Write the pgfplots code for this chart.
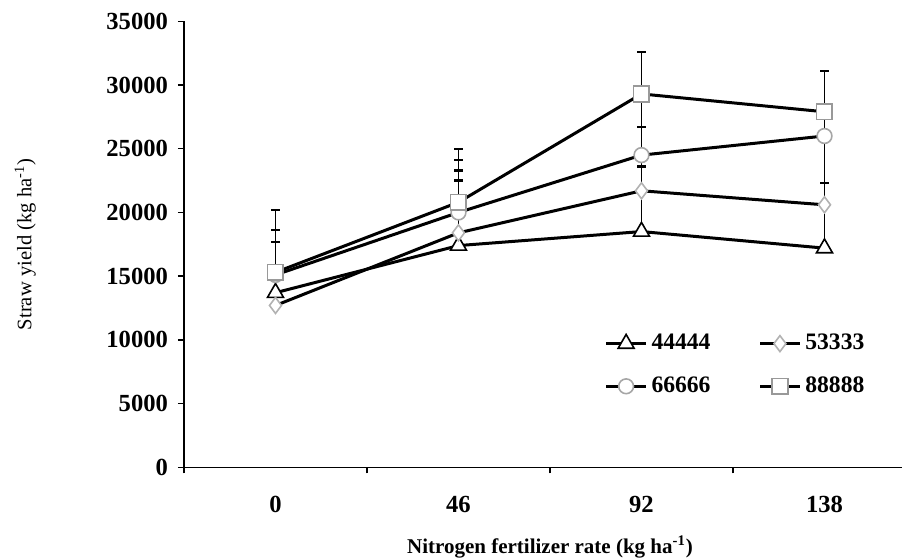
\documentclass[border=0pt]{standalone}
\usepackage{pgfplots}
\pgfplotsset{compat=1.18}
\usepackage{fontspec}
\setmainfont{Liberation Serif}
\usetikzlibrary{calc}
\begin{document}
\begin{tikzpicture}
\begin{axis}[
  name=ax,
  width=366pt, height=223pt, scale only axis,
  xmin=-0.5, xmax=3.5, ymin=0, ymax=35000,
  axis x line*=bottom, axis y line*=left,
  axis line style={line width=0.75pt, black},
  xtick={0,1,2,3}, xticklabels={0,46,92,138},
  minor xtick={-0.5,0.5,1.5,2.5,3.5},
  ytick={0,5000,10000,15000,20000,25000,30000,35000},
  tick align=outside,
  major tick length=3pt, minor tick length=3pt,
  major x tick style={draw=none},
  tick style={line width=0.75pt, black},
  scaled y ticks=false,
  /pgf/number format/assume math mode=true,
  /pgf/number format/1000 sep={},
  ticklabel style={font=\bfseries\fontsize{12.3}{13}\selectfont},
  yticklabel style={xshift=-1.5pt},
  xticklabel style={yshift=-8pt},
  ylabel={Straw yield (kg ha\textsuperscript{-1})},
  ylabel style={at={(axis description cs:-0.217,0.5)}, anchor=center, font=\fontsize{10.3}{12}\selectfont},
  xlabel={Nitrogen fertilizer rate (kg ha\textsuperscript{-1})},
  xlabel style={at={(axis description cs:0.5,0)}, anchor=center, yshift=-40pt, font=\bfseries\fontsize{10.5}{12}\selectfont},
  error bars/y dir=plus, error bars/y explicit,
  error bars/error bar style={line width=0.75pt, black},
  error bars/error mark options={rotate=90, line width=1.2pt, black, mark size=2.2pt},
  legend columns=2,
  legend cell align=left,
  legend image code/.code={\draw[mark repeat=2,mark phase=2] plot coordinates {(0cm,0cm) (0.35cm,0cm) (0.7cm,0cm)};},
  legend style={at={(rel axis cs:0.566,0.317)}, anchor=north west, draw=none, fill=none,
    font=\bfseries\fontsize{11.8}{12}\selectfont, row sep=8pt,
    /tikz/every even column/.append style={column sep=22pt}},
]
\addplot[black, line width=1.5pt, mark=triangle*, mark size=4.6pt,
  mark options={fill=white, draw=black, line width=0.8pt}]
  coordinates {(0,13700) +- (0,4900) (1,17400) +- (0,5100) (2,18500) +- (0,5100) (3,17200) +- (0,5100)};
\addlegendentry{44444}
\addplot[black, line width=1.5pt, mark=diamond*, mark size=4pt,
  mark options={fill=white, draw=gray!60, line width=0.8pt}]
  coordinates {(0,12700) +- (0,5000) (1,18400) +- (0,4900) (2,21700) +- (0,5000) (3,20600) +- (0,5400)};
\addlegendentry{53333}
\addplot[black, line width=1.5pt, mark=*, mark size=3.7pt,
  mark options={fill=white, draw=gray!70, line width=0.8pt}]
  coordinates {(0,15100) +- (0,5100) (1,20000) +- (0,4100) (2,24500) +- (0,4800) (3,26000) +- (0,1900)};
\addlegendentry{66666}
\addplot[black, line width=1.5pt, mark=square*, mark size=3.9pt,
  mark options={fill=white, draw=gray!80, line width=0.8pt}]
  coordinates {(0,15300) +- (0,4900) (1,20800) +- (0,4200) (2,29300) +- (0,3300) (3,27900) +- (0,3200)};
\addlegendentry{88888}
\end{axis}
\pgfresetboundingbox
\path[use as bounding box] ($(ax.south west)+(-92pt,-45.75pt)$) rectangle ($(ax.south west)+(359pt,233.65pt)$);
\end{tikzpicture}
\end{document}
